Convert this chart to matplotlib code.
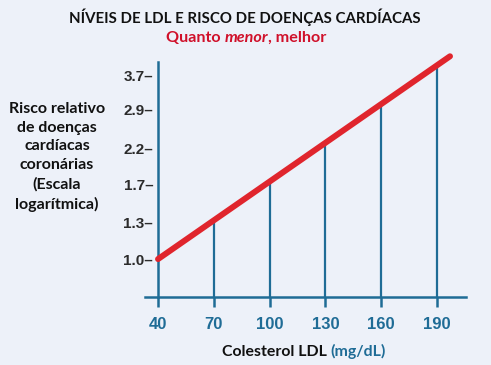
import numpy as np
import matplotlib.pyplot as plt
from matplotlib.offsetbox import TextArea, HPacker, AnnotationBbox

# data
ldl_ticks = [40, 70, 100, 130, 160, 190]
risk_ticks = [1.0, 1.3, 1.7, 2.2, 2.9, 3.7]
risk_labels = ["1.0–", "1.3–", "1.7–", "2.2–", "2.9–", "3.7–"]
line_ldl = [40, 197]
line_risk = [1.0, 4.25]
stem_ldl = [70, 100, 130, 160, 190]
stem_risk = [1.32, 1.74, 2.29, 3.0, 3.95]

BG = '#edf1f9'
BLUE = '#1f6c96'
RED = '#e0252d'
DARK = '#2b2b2b'

fig = plt.figure(figsize=(4.91, 3.65), dpi=100, facecolor=BG)
ax = fig.add_axes([145 / 491, 68 / 365, 321 / 491, 235 / 365])
ax.set_facecolor(BG)

ax.set_yscale('log')
ax.set_xlim(33, 205.6)
ax.set_ylim(0.763, 4.08)

# stems from axis up to the line
ax.vlines(stem_ldl, 0.763, stem_risk, color=BLUE, lw=1.6, zorder=2)
ax.plot(line_ldl, line_risk, color=RED, lw=4.3, solid_capstyle='round',
        clip_on=False, zorder=3)

for s in ['top', 'right']:
    ax.spines[s].set_visible(False)
for s in ['left', 'bottom']:
    ax.spines[s].set_color(BLUE)
    ax.spines[s].set_linewidth(1.8)
ax.spines['left'].set_position(('data', 40))

ax.set_xticks(ldl_ticks)
ax.set_xticklabels([str(v) for v in ldl_ticks], fontfamily=['Liberation Sans', 'DejaVu Sans'],
                   fontweight='bold', fontsize=12, color=BLUE)
ax.tick_params(axis='x', direction='out', length=7.5, width=1.8, color=BLUE, pad=7)

ax.yaxis.set_minor_locator(plt.NullLocator())
ax.set_yticks(risk_ticks)
ax.set_yticklabels(risk_labels, fontfamily=['Liberation Sans', 'DejaVu Sans'], fontweight='bold',
                   fontsize=11, color=DARK)
ax.tick_params(axis='y', which='both', length=0, pad=3.5)

# titles
fig.text(245 / 491, 1 - 17 / 365, "NÍVEIS DE LDL E RISCO DE DOENÇAS CARDÍACAS",
         ha='center', va='center', fontsize=10.8, fontweight='bold',
         family='Lato', color='#111111')

red_props = dict(color='#d0102a', fontsize=11.6, fontweight='bold', family='Lato')
sub = HPacker(children=[
    TextArea("Quanto ", textprops=red_props),
    TextArea("menor", textprops=dict(red_props, style='italic')),
    TextArea(", melhor", textprops=red_props),
], align='baseline', pad=0, sep=0)
fig.add_artist(AnnotationBbox(sub, (246 / 491, 1 - 38 / 365), xycoords='figure fraction',
                              frameon=False, pad=0, box_alignment=(0.5, 0.5)))

xl = HPacker(children=[
    TextArea("Colesterol LDL ", textprops=dict(color='#111111', fontsize=11.4, fontweight='bold', family='Lato')),
    TextArea("(mg/dL)", textprops=dict(color=BLUE, fontsize=11.4, fontweight='bold', family='Lato')),
], align='baseline', pad=0, sep=0)
fig.add_artist(AnnotationBbox(xl, (304 / 491, 1 - 351 / 365), xycoords='figure fraction',
                              frameon=False, pad=0, box_alignment=(0.5, 0.5)))

fig.text(57 / 491, 1 - 157 / 365,
         "Risco relativo\nde doenças\ncardíacas\ncoronárias\n(Escala\nlogarítmica)",
         ha='center', va='center', fontsize=11.5, fontweight='bold', family='Lato',
         color='#111111', linespacing=1.44)

fig.savefig('out.png', dpi=100, facecolor=BG)
